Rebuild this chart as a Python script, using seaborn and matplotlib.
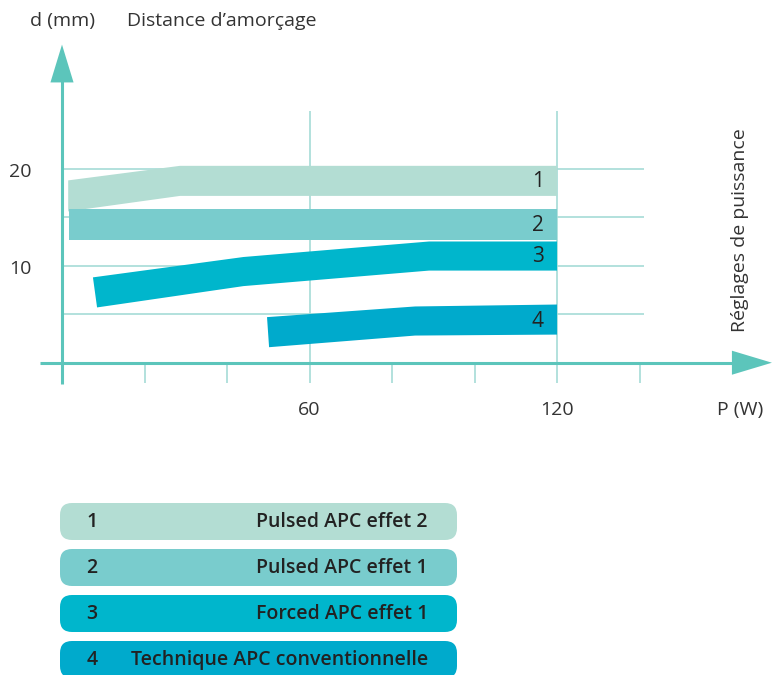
import matplotlib.pyplot as plt
import seaborn as sns
import numpy as np
from matplotlib.patches import FancyBboxPatch

# Band outlines (P in W, d in mm)
band_ids = ["1", "2", "3", "4"]
band_names = ["Pulsed APC effet 2", "Pulsed APC effet 1",
              "Forced APC effet 1", "Technique APC conventionnelle"]
upper_x = [[1.5, 28.6, 120], [1.7, 120], [7.5, 44, 89, 120], [49.7, 85.6, 120]]
upper_y = [[18.8, 20.3, 20.3], [15.9, 15.9], [8.8, 10.9, 12.5, 12.5], [4.7, 5.8, 6.0]]
lower_x = [[1.5, 28.6, 120], [1.7, 120], [8.5, 44, 89, 120], [50.2, 85.6, 120]]
lower_y = [[15.6, 17.2, 17.2], [12.7, 12.7], [5.7, 7.9, 9.5, 9.5], [1.6, 2.8, 2.9]]
label_y = [18.7, 14.1, 11.0, 4.2]

x_ticks = [0, 20, 40, 60, 80, 100, 120, 140]
x_ticklabels = {60: "60", 120: "120"}
y_grid = [5, 10, 15, 20]
y_ticklabels = {10: "10", 20: "20"}

colors = ["#b3ddd3", "#79cccd", "#00b6cc", "#00aacc"]
axis_col = "#5cc5bb"
grid_col = "#a6dcd7"
text_col = "#333333"

sns.set_theme(style="white")
plt.rcParams['font.family'] = ['Open Sans', 'DejaVu Sans']

fig = plt.figure(figsize=(7.74, 6.75), dpi=100)
ax = fig.add_axes([0, 0, 1, 1])
ax.set_xlim(-15.03, 172.6)
ax.set_ylim(-32.2, 37.4)
ax.axis("off")

# grid
ax.hlines(y_grid, 0, 141, color=grid_col, lw=1.2, zorder=1)
ax.vlines([60, 120], 0, 26, color=grid_col, lw=1.2, zorder=1)
ax.vlines(x_ticks[1:], -2.1, 0, color=grid_col, lw=1.2, zorder=1)

# bands
for i in range(4):
    xs = upper_x[i] + lower_x[i][::-1]
    ys = upper_y[i] + lower_y[i][::-1]
    ax.fill(xs, ys, color=colors[i], lw=0, zorder=2)
    ax.text(116.8, label_y[i], band_ids[i], ha="right", va="center",
            fontsize=15, color="#222222", zorder=3)

# axes with arrows
ax.plot([-5.3, 163], [0, 0], color=axis_col, lw=2.2, zorder=4, solid_capstyle="butt")
ax.plot([0, 0], [-2.2, 29.5], color=axis_col, lw=2.2, zorder=4, solid_capstyle="butt")
ax.fill([162.4, 172.1, 162.4], [-1.24, 0, 1.24], color=axis_col, lw=0, zorder=4)
ax.fill([-2.8, 0, 2.8], [28.9, 32.8, 28.9], color=axis_col, lw=0, zorder=4)

# tick labels and axis titles
fs = 14
for x, lab in x_ticklabels.items():
    ax.text(x, -4.9, lab, ha="center", va="center", fontsize=fs, color=text_col)
for y, lab in y_ticklabels.items():
    ax.text(-10, y - 0.3, lab, ha="center", va="center", fontsize=fs, color=text_col)
ax.text(164.4, -4.9, "P (W)", ha="center", va="center", fontsize=fs, color=text_col)
ax.text(0, 35.2, "d (mm)", ha="center", va="center", fontsize=fs, color=text_col)
ax.text(15.8, 35.2, "Distance d\u2019amorçage", ha="left", va="center",
        fontsize=fs, color=text_col)
ax.text(164.4, 13.7, "Réglages de puissance", ha="center", va="center",
        rotation=90, fontsize=fs, color=text_col)

# legend boxes (pixel coordinates)
leg = fig.add_axes([0, 0, 1, 1])
leg.set_xlim(0, 774)
leg.set_ylim(675, 0)
leg.axis("off")
for i in range(4):
    top = 503 + 46 * i
    box = FancyBboxPatch((72, top + 12), 373, 13,
                         boxstyle="round,pad=12,rounding_size=12",
                         facecolor=colors[i], edgecolor="none")
    leg.add_patch(box)
    leg.text(92, top + 19, band_ids[i], ha="center", va="center",
             fontsize=14, fontweight="semibold", color="#222222")
    leg.text(428, top + 19, band_names[i], ha="right", va="center",
             fontsize=14, fontweight="semibold", color="#222222")

fig.savefig("out.png", dpi=100)
